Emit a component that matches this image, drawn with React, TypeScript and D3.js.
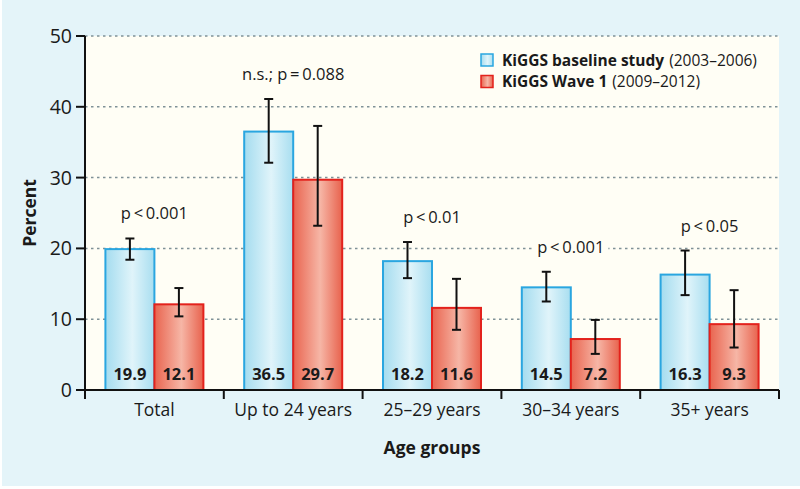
import React from "react";
import * as d3 from "d3";

const categories = ["Total", "Up to 24 years", "25–29 years", "30–34 years", "35+ years"];
const baseline = [19.9, 36.5, 18.2, 14.5, 16.3];
const baselineLow = [18.4, 32.1, 15.8, 12.5, 13.4];
const baselineHigh = [21.4, 41.1, 20.9, 16.7, 19.7];
const wave1 = [12.1, 29.7, 11.6, 7.2, 9.3];
const wave1Low = [10.4, 23.2, 8.5, 5.1, 6.0];
const wave1High = [14.4, 37.3, 15.7, 9.9, 14.1];
const pLabels = ["p\u2009<\u20090.001", "n.s.; p\u2009=\u20090.088", "p\u2009<\u20090.01", "p\u2009<\u20090.001", "p\u2009<\u20090.05"];
const yTicks = [0, 10, 20, 30, 40, 50];
const seriesKeys = ["baseline", "wave1"];
const legendBold = ["KiGGS baseline study", "KiGGS Wave 1"];
const legendNormal = ["(2003–2006)", "(2009–2012)"];

const W = 800, H = 489;
const left = 85, right = 779, top = 36, bottom = 390;
const FONT = "'Open Sans', 'Noto Sans', sans-serif";

function measure(text: string, size: number, weight: string): number {
  const c = document.createElement("canvas").getContext("2d");
  if (!c) return text.length * size * 0.55;
  c.font = `${weight} ${size}px 'Open Sans', 'Noto Sans', sans-serif`;
  return c.measureText(text).width;
}

export default function App() {
  const y = d3.scaleLinear().domain([0, 50]).range([bottom, top]);
  const x0 = d3.scaleBand<string>().domain(categories).range([left, right]);
  const bw = x0.bandwidth();
  const groupW = 98;
  const x1 = d3.scaleBand<string>().domain(seriesKeys).range([(bw - groupW) / 2, (bw + groupW) / 2]);
  const barW = x1.bandwidth();
  const legSize = 15.5;

  const series = [
    { key: "baseline", vals: baseline, lo: baselineLow, hi: baselineHigh, fill: "url(#gBlue)", stroke: "#2aa6e0" },
    { key: "wave1", vals: wave1, lo: wave1Low, hi: wave1High, fill: "url(#gRed)", stroke: "#e3221c" },
  ];

  return (
    <svg width={W} height={H} style={{ position: "absolute", left: 0, top: 0, display: "block" }} fontFamily={FONT}>
      <defs>
        <linearGradient id="gBlue" x1="0" x2="1" y1="0" y2="0">
          <stop offset="0" stopColor="#a4dcef" />
          <stop offset="0.55" stopColor="#e0f4fa" />
          <stop offset="1" stopColor="#a8def0" />
        </linearGradient>
        <linearGradient id="gRed" x1="0" x2="1" y1="0" y2="0">
          <stop offset="0" stopColor="#e9644f" />
          <stop offset="0.55" stopColor="#f6b6a6" />
          <stop offset="1" stopColor="#e8624d" />
        </linearGradient>
      </defs>
      <rect x={0} y={0} width={W} height={H} fill="#ffffff" />
      <rect x={2} y={0} width={W - 2} height={H - 3} fill="#e4f4f9" />
      <rect x={left} y={top} width={right - left} height={bottom - top} fill="#fffef5" />

      {yTicks.filter((t) => t > 0).map((t) => (
        <line key={t} x1={left} x2={right} y1={y(t)} y2={y(t)} stroke="#7f9197" strokeWidth={1.5} strokeDasharray="2.5,3.5" />
      ))}

      {categories.map((c, i) => {
        const ty = y(Math.max(baselineHigh[i], wave1High[i])) - 19;
        const cxg = (x0(c) as number) + bw / 2;
        const tw = measure(pLabels[i], 16.5, "normal");
        return (
          <g key={c}>
            <rect x={cxg - tw / 2 - 4} y={ty - 14} width={tw + 8} height={19} fill="#fffef5" />
            {series.map((s) => {
              const bx = (x0(c) as number) + (x1(s.key) as number);
              const cx = bx + barW / 2;
              return (
                <g key={s.key}>
                  <rect x={bx} y={y(s.vals[i])} width={barW} height={y(0) - y(s.vals[i])} fill={s.fill} stroke={s.stroke} strokeWidth={2} />
                  <text x={cx} y={380} textAnchor="middle" fontWeight="bold" fontSize={16.5} fill="#1a1a1a">
                    {s.vals[i].toFixed(1)}
                  </text>
                  <line x1={cx} x2={cx} y1={y(s.hi[i])} y2={y(s.lo[i])} stroke="#111" strokeWidth={2} />
                  <line x1={cx - 4.5} x2={cx + 4.5} y1={y(s.hi[i])} y2={y(s.hi[i])} stroke="#111" strokeWidth={2} />
                  <line x1={cx - 4.5} x2={cx + 4.5} y1={y(s.lo[i])} y2={y(s.lo[i])} stroke="#111" strokeWidth={2} />
                </g>
              );
            })}
            <text x={cxg} y={ty} textAnchor="middle" fontSize={16.5} fill="#1a1a1a">
              {pLabels[i]}
            </text>
          </g>
        );
      })}

      {/* axes */}
      <line x1={left} x2={left} y1={top} y2={bottom} stroke="#111" strokeWidth={2} />
      <line x1={left} x2={right} y1={bottom} y2={bottom} stroke="#111" strokeWidth={2} />
      {yTicks.map((t) => (
        <g key={t}>
          <line x1={76} x2={left} y1={y(t)} y2={y(t)} stroke="#111" strokeWidth={2} />
          <text x={72} y={y(t)} dy="0.36em" textAnchor="end" fontSize={19.5} fill="#1a1a1a">{t}</text>
        </g>
      ))}
      {[...categories.map((c) => x0(c) as number), right].map((xv, i) => (
        <line key={i} x1={xv} x2={xv} y1={bottom} y2={bottom + 9} stroke="#111" strokeWidth={2} />
      ))}
      {categories.map((c) => (
        <text key={c} x={(x0(c) as number) + bw / 2} y={416} textAnchor="middle" fontSize={17.5} fill="#1a1a1a">{c}</text>
      ))}
      <text x={(left + right) / 2} y={454} textAnchor="middle" fontSize={17.5} fontWeight="bold" fill="#1a1a1a">Age groups</text>
      <text transform={`translate(36, ${(top + bottom) / 2}) rotate(-90)`} textAnchor="middle" fontSize={17.5} fontWeight="bold" fill="#1a1a1a">Percent</text>

      {/* legend */}
      {series.map((s, i) => {
        const bwid = measure(legendBold[i], legSize, "bold");
        return (
          <g key={s.key} transform={`translate(481, ${54 + i * 21.5})`}>
            <rect x={0} y={0} width={12} height={12} fill={s.fill} stroke={s.stroke} strokeWidth={1.5} />
            <text x={21} y={11.5} fontSize={legSize} fontWeight="bold" fill="#1a1a1a">{legendBold[i]}</text>
            <text x={21 + bwid + 5} y={11.5} fontSize={legSize} fill="#1a1a1a">{legendNormal[i]}</text>
          </g>
        );
      })}
    </svg>
  );
}
